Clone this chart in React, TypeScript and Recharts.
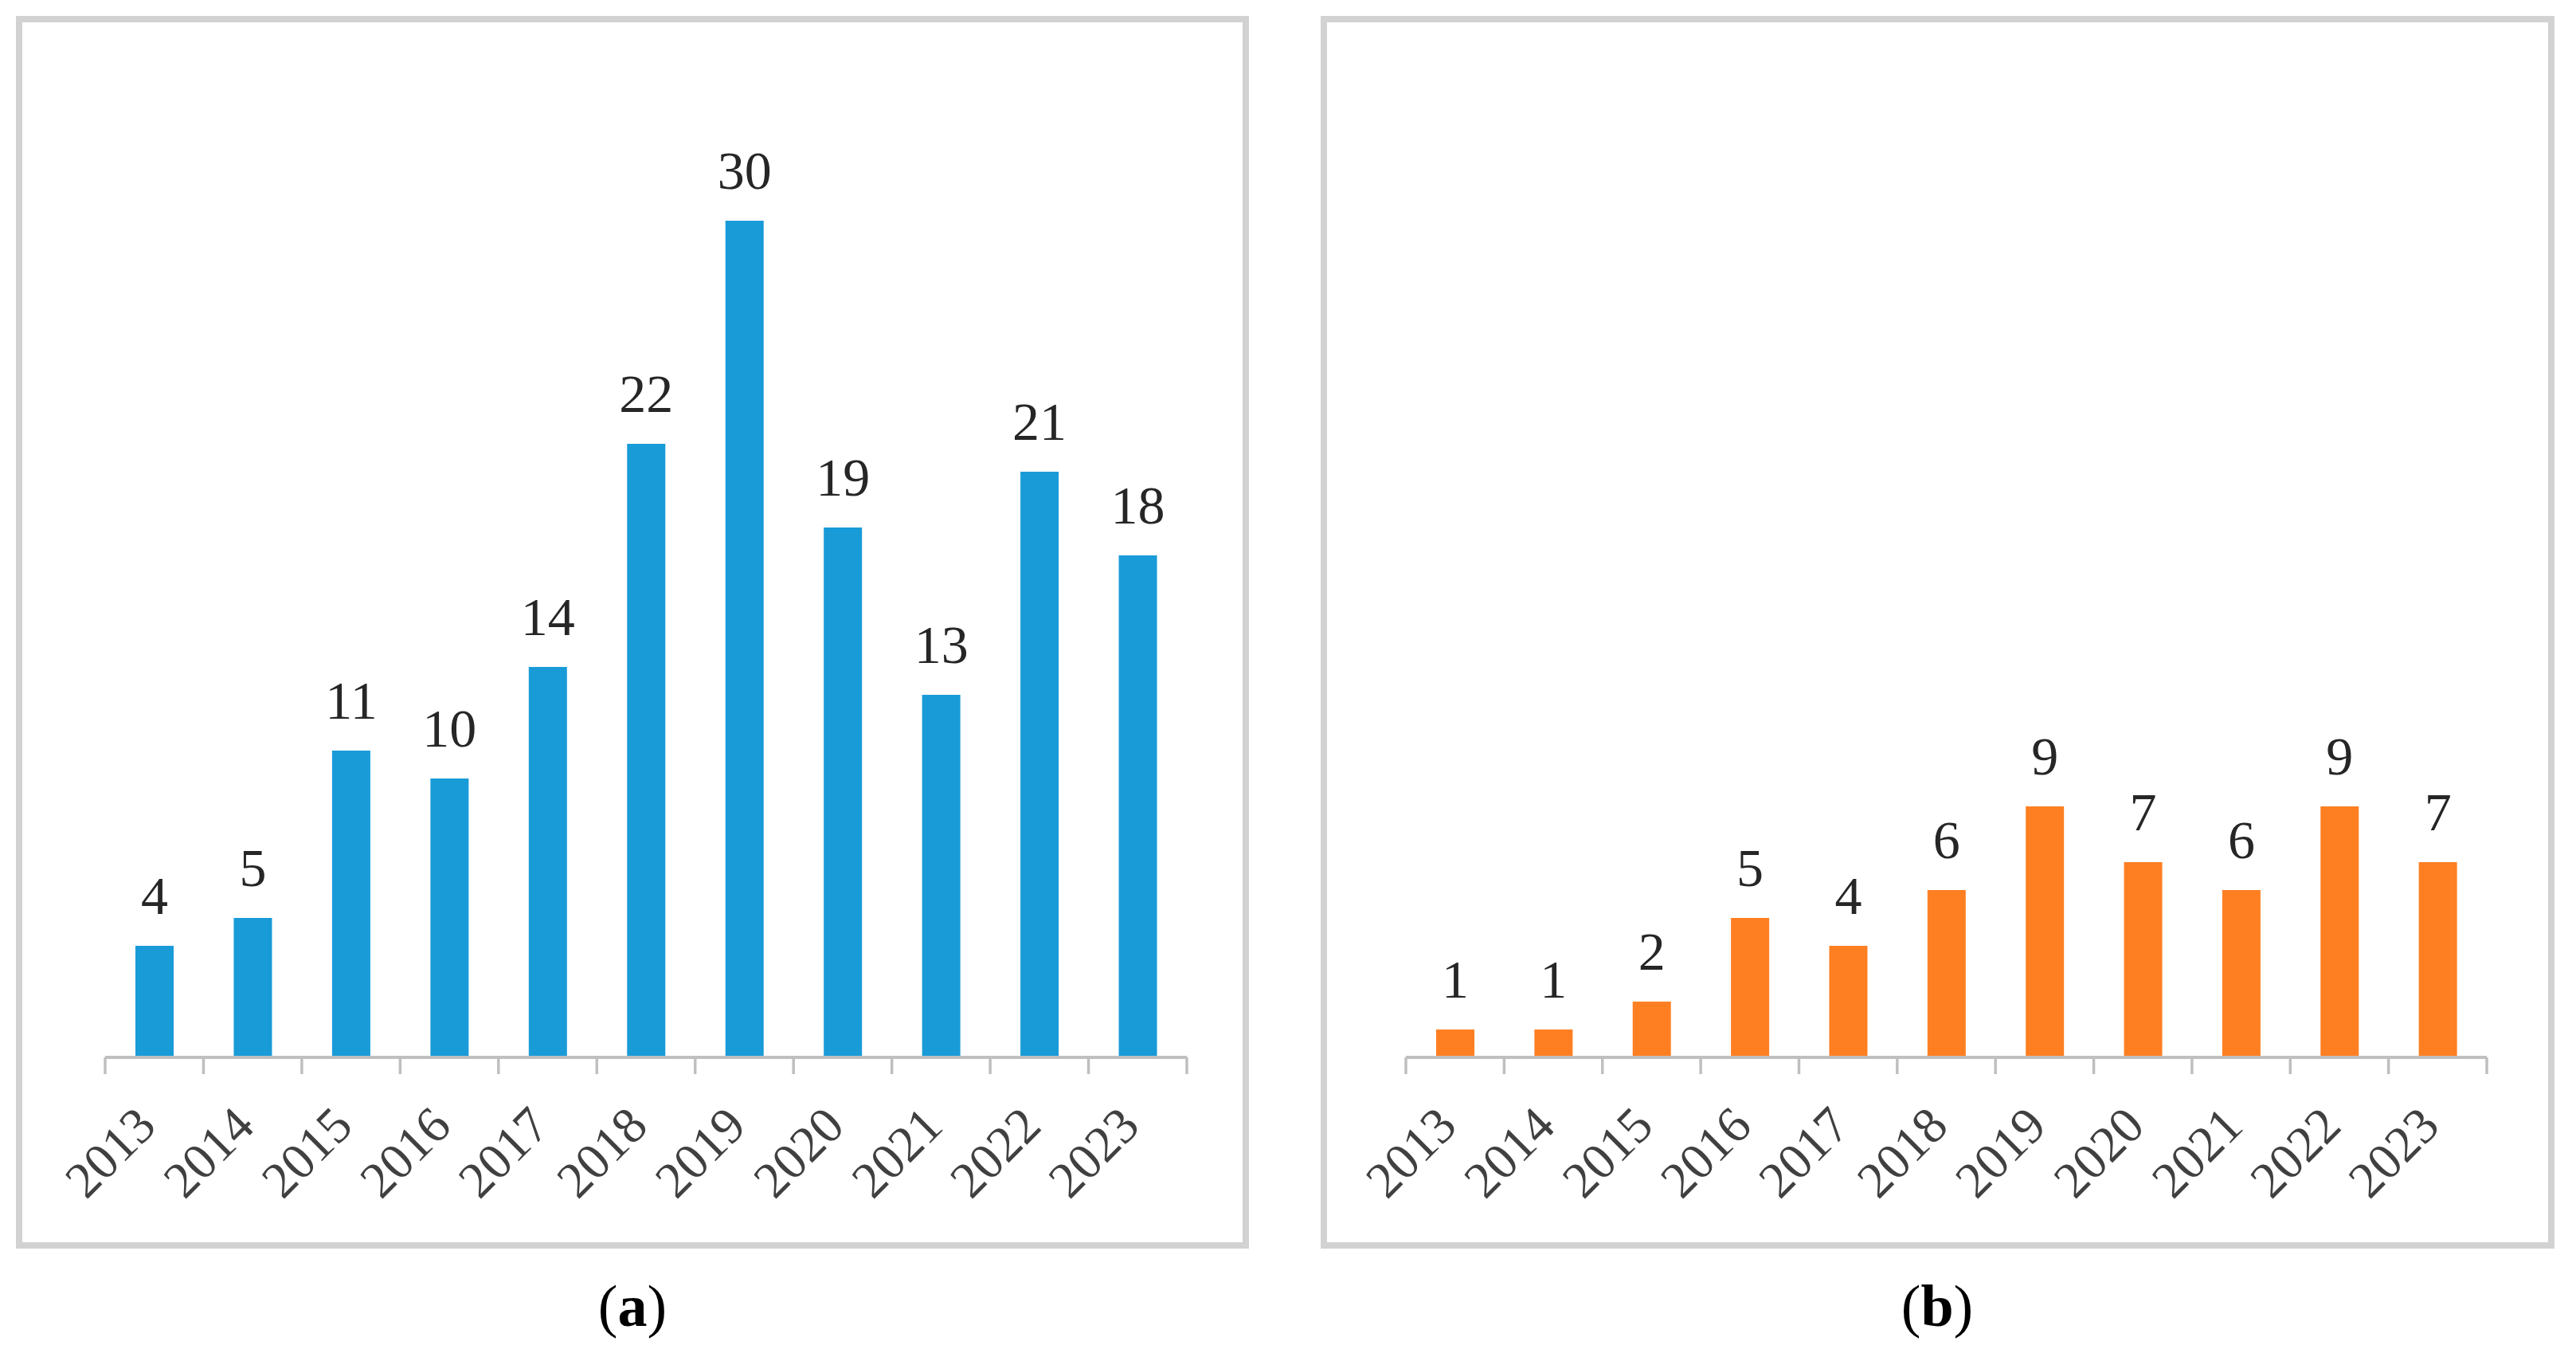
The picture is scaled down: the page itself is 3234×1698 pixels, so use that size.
import React from 'react';
import { BarChart, Bar, XAxis, YAxis, LabelList } from 'recharts';

const years = ['2013', '2014', '2015', '2016', '2017', '2018', '2019', '2020', '2021', '2022', '2023'];
const seriesA = [4, 5, 11, 10, 14, 22, 30, 19, 13, 21, 18];
const seriesB = [1, 1, 2, 5, 4, 6, 9, 7, 6, 9, 7];
const yDomain: [number, number] = [0, 35];

const SERIF = '"Liberation Serif", "Times New Roman", serif';
const AXIS_GRAY = '#bfbfbf';

const YearTick = (props: any) => {
  const { x, y, payload, index, visibleTicksCount, width } = props;
  const half =
    payload && typeof payload.offset === 'number' && payload.offset > 0
      ? payload.offset
      : width / visibleTicksCount / 2;
  const ax = x + 5;
  const ay = y + 89;
  const isLast = index === visibleTicksCount - 1;
  return (
    <g>
      <line x1={x - half} x2={x - half} y1={y} y2={y + 21} stroke={AXIS_GRAY} strokeWidth={3.5} />
      {isLast && (
        <line x1={x + half} x2={x + half} y1={y} y2={y + 21} stroke={AXIS_GRAY} strokeWidth={3.5} />
      )}
      <text
        x={ax}
        y={ay}
        transform={`rotate(-45 ${ax} ${ay})`}
        textAnchor="end"
        fontFamily={SERIF}
        fontSize={64}
        fill="#404040"
      >
        {payload.value}
      </text>
    </g>
  );
};

type PanelProps = {
  values: number[];
  color: string;
  left: number;
  width: number;
  mLeft: number;
  mRight: number;
};

const Panel = ({ values, color, left, width, mLeft, mRight }: PanelProps) => {
  const data = years.map((year, i) => ({ year, value: values[i] }));
  return (
    <div
      style={{
        position: 'absolute',
        left,
        top: 20,
        width,
        height: 1547,
        border: '8px solid #d2d2d2',
        boxSizing: 'border-box',
        background: '#fff',
      }}
    >
      <BarChart
        width={width - 16}
        height={1531}
        data={data}
        margin={{ top: 74, right: mRight, bottom: 32, left: mLeft }}
      >
        <XAxis
          dataKey="year"
          type="category"
          axisLine={{ stroke: AXIS_GRAY, strokeWidth: 4 }}
          tickLine={false}
          tickSize={0}
          tickMargin={0}
          interval={0}
          height={200}
          tick={<YearTick />}
        />
        <YAxis hide domain={yDomain} />
        <Bar dataKey="value" fill={color} barSize={48} isAnimationActive={false}>
          <LabelList
            dataKey="value"
            position="top"
            offset={40}
            fontFamily={SERIF}
            fontSize={68}
            fill="#262626"
          />
        </Bar>
      </BarChart>
    </div>
  );
};

export default function App() {
  return (
    <div
      style={{
        position: 'absolute',
        left: 0,
        top: 0,
        width: 3234,
        height: 1698,
        background: '#fff',
        overflow: 'hidden',
      }}
    >
      <Panel values={seriesA} color="#199bd8" left={20} width={1548} mLeft={104} mRight={70} />
      <Panel values={seriesB} color="#fe7f22" left={1658} width={1549} mLeft={99} mRight={77} />
      <svg
        width={3234}
        height={1698}
        style={{ position: 'absolute', left: 0, top: 0, pointerEvents: 'none' }}
      >
        <text x={794} y={1664} textAnchor="middle" fontFamily={SERIF} fontSize={74} fill="#000">
          (<tspan fontWeight="bold">a</tspan>)
        </text>
        <text x={2432} y={1664} textAnchor="middle" fontFamily={SERIF} fontSize={74} fill="#000">
          (<tspan fontWeight="bold">b</tspan>)
        </text>
      </svg>
    </div>
  );
}
